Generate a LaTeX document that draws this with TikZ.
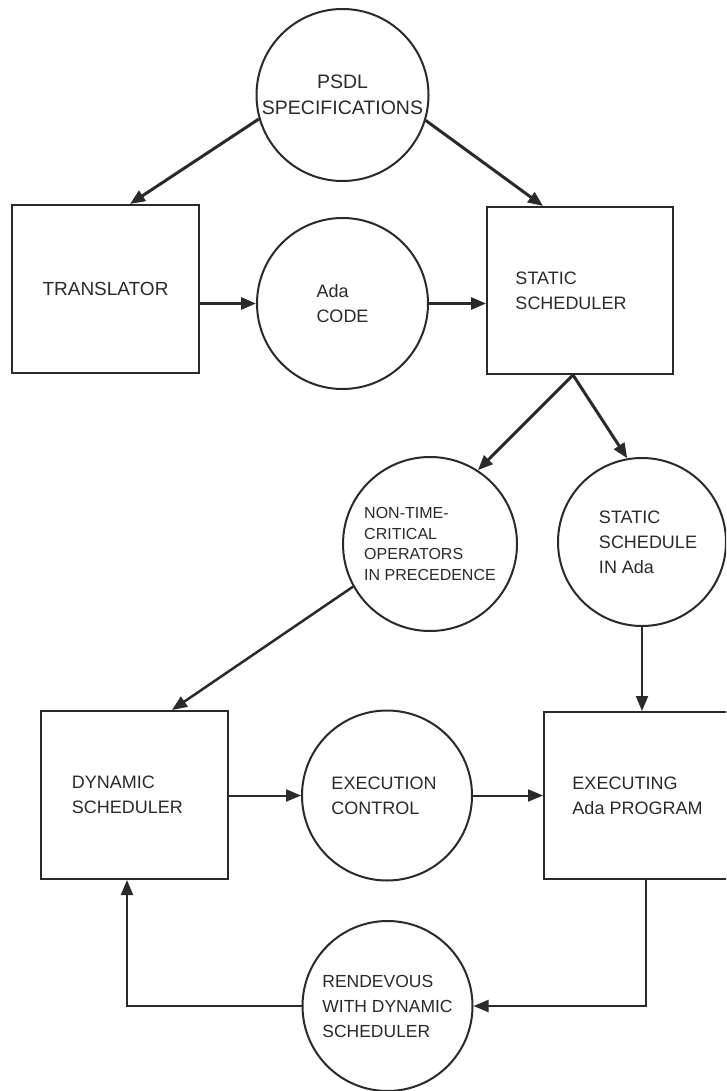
\documentclass[tikz,border=0pt]{standalone}
\usepackage{fontspec}
\setmainfont{Liberation Sans}
\usetikzlibrary{arrows.meta}
\definecolor{ink}{HTML}{2A2A2A}
\begin{document}
\begin{tikzpicture}[x=1pt,y=-1pt,
  every node/.style={font=\fontsize{18}{25}\selectfont, text=ink, align=left},
  procbox/.style={draw=ink, line width=2pt, rectangle, minimum width=187pt, minimum height=168pt, inner sep=0pt},
  datacirc/.style={draw=ink, line width=2pt, circle, minimum size=172pt, inner sep=0pt},
  flow/.style={draw=ink, line width=2pt, -{Triangle[length=15pt,width=12pt]}},
  heavy/.style={flow, line width=3pt}]
\clip (0,0) rectangle (726,1091);
\fill[white] (0,0) rectangle (726,1091);

% data stores (circles)
\node[datacirc, align=center, font=\fontsize{19.5}{26}\selectfont] (psdl) at (342.5,95) {PSDL\\SPECIFICATIONS};
\node[datacirc, minimum size=171pt] (ada) at (342.5,303.5) {Ada\\CODE};
\node[datacirc, minimum size=174pt, font=\fontsize{16}{20.5}\selectfont] (ntc) at (430,544) {NON-TIME-\\CRITICAL\\OPERATORS\\IN PRECEDENCE};
\node[datacirc, minimum size=168pt] (ssched) at (642,542) {\hspace*{12pt}STATIC\\\hspace*{12pt}SCHEDULE\\\hspace*{12pt}IN Ada};
\node[datacirc, minimum size=170pt] (exe) at (387,795.5) {EXECUTION\hspace*{6pt}\\CONTROL};
\node[datacirc, minimum size=170pt, font=\fontsize{17.5}{25}\selectfont] (rdv) at (387.5,1006) {RENDEVOUS\\WITH DYNAMIC\\SCHEDULER};

% processes (boxes)
\node[procbox, font=\fontsize{19}{25}\selectfont] (tr) at (105.5,289) {TRANSLATOR};
\node[procbox, minimum width=186pt, minimum height=167pt] (ss) at (580,290.5) {STATIC\\SCHEDULER\hspace*{18pt}};
\node[procbox] (dyn) at (134.5,795) {DYNAMIC\\SCHEDULER\hspace*{14pt}};
\node[procbox, minimum height=167pt] (ep) at (637.5,795.5) {EXECUTING\\Ada PROGRAM};

% connectors
\draw[heavy] (psdl.196) -- ([xshift=24.5pt]tr.north);
\draw[heavy] (psdl.-17) -- ([xshift=-37pt]ss.north);
\draw[heavy] (tr.east |- ada.west) -- (ada.west);
\draw[heavy] (ada.east) -- (ada.east -| ss.west);
\draw[heavy] ([xshift=-7pt]ss.south) -- (ntc.57);
\draw[heavy] ([xshift=-7pt]ss.south) -- (ssched.100);
\draw[flow, line width=2.5pt] (ntc.209) -- ([xshift=37.5pt]dyn.north);
\draw[flow] (ssched.south) -- (ssched.south |- ep.north);
\draw[flow] (dyn.east |- exe.west) -- (exe.west);
\draw[flow] (exe.east) -- (exe.east -| ep.west);
\draw[flow] ([xshift=8.5pt]ep.south) |- (rdv.east);
\draw[flow] (rdv.west) -| ([xshift=-7.5pt]dyn.south);
\end{tikzpicture}
\end{document}
